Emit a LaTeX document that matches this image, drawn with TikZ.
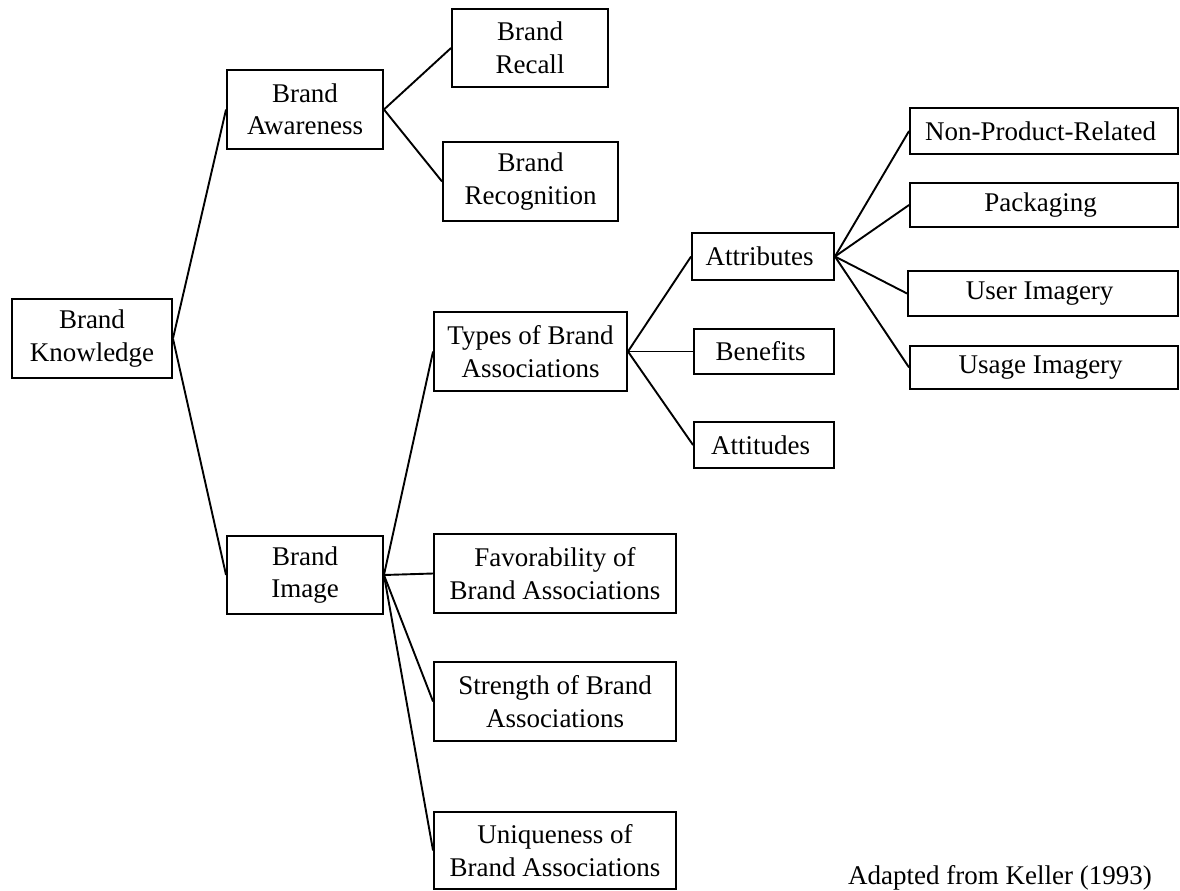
\documentclass[tikz,border=0pt]{standalone}
\usepackage{fontspec}
\setmainfont{Liberation Serif}
\usetikzlibrary{positioning}

\begin{document}
\begin{tikzpicture}[%
    x=1pt, y=-1pt,              % one unit = one pixel of the layout
    line width=1.9pt,
    ]

\tikzset{
  base/.style={draw, rectangle, inner sep=0pt, align=center,
    font=\fontsize{27}{32.5}\selectfont},
  tall/.style={base, minimum height=79pt},
  flat/.style={base, minimum height=45pt}
  };

\useasboundingbox (0,0) rectangle (1180,891);

% ROOT
\node[tall, minimum width=160pt] (know) at (92,338.5) { Brand\\Knowledge };

% Awareness branch
\node[tall, minimum width=156pt] (aware) at (305,109.5) { Brand\\Awareness };
\node[tall, minimum width=156pt, minimum height=78pt] (recall) at (530,48) { Brand\\Recall };
\node[tall, minimum width=175pt] (recog) at (530.5,181.5) { Brand\\Recognition };

% Image branch
\node[tall, minimum width=156pt, minimum height=78pt] (image) at (305,575) { Brand\\Image };
\node[tall, minimum width=193pt] (types) at (530.5,351.5) { Types of Brand\\Associations };
\node[tall, minimum width=242pt] (favor) at (555,573.5) { Favorability of\\Brand Associations };
\node[tall, minimum width=242pt] (strength) at (555,701.5) { Strength of Brand\\Associations };
\node[tall, minimum width=242pt, minimum height=77pt] (unique) at (555,850.5) { Uniqueness of\\Brand Associations };

% Types of associations
\node[flat, minimum width=142pt, minimum height=47pt] (attrib) at (763,256.5) { Attributes };
\node[flat, minimum width=140pt] (benef) at (764,351.5) { Benefits };
\node[flat, minimum width=140pt, minimum height=46pt] (attit) at (764,445) { Attitudes };

% Attributes
\node[flat, minimum width=268pt, minimum height=46pt] (nonprod) at (1044,131) { Non-Product-Related };
\node[flat, minimum width=268pt, minimum height=44pt] (pack) at (1044,205) { Packaging };
\node[flat, minimum width=270pt] (user) at (1043,293.5) { User Imagery };
\node[flat, minimum width=268pt, minimum height=43pt] (usage) at (1044,367.5) { Usage Imagery };

% source
\node[font=\fontsize{27}{32.5}\selectfont, inner sep=0pt] (source) at (1000,878) { Adapted from Keller (1993) };

\draw (know.east) edge (aware.west);
\draw (know.east) edge (image.west);

\draw (aware.east) edge (recall.west);
\draw (aware.east) edge (recog.west);

\draw (image.east) edge (types.west);
\draw (image.east) edge (favor.west);
\draw (image.east) edge (strength.west);
\draw (image.east) edge (unique.west);

\draw (types.east) edge (attrib.west);
\draw (types.east) edge (benef.west);
\draw (types.east) edge (attit.west);

\draw (attrib.east) edge (nonprod.west);
\draw (attrib.east) edge (pack.west);
\draw (attrib.east) edge (user.west);
\draw (attrib.east) edge (usage.west);

\end{tikzpicture}
\end{document}
